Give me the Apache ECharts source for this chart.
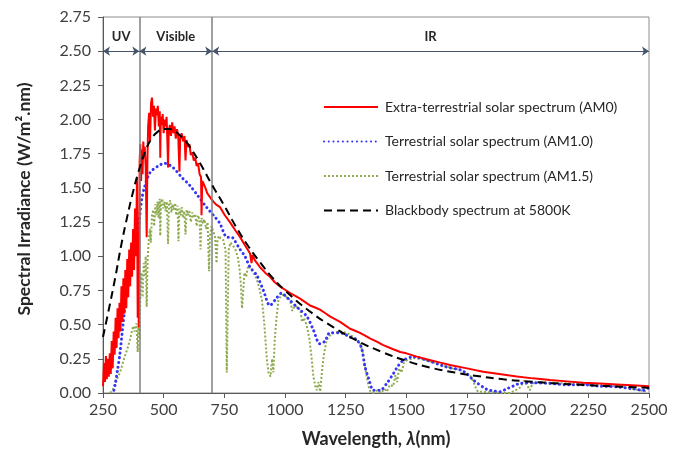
<!DOCTYPE html>
<html><head><meta charset="utf-8">
<script src="https://cdn.jsdelivr.net/npm/echarts@6/dist/echarts.min.js"></script>
<style>html,body{margin:0;padding:0;background:#fff}#c{width:684px;height:460px}</style>
</head><body><div id="c"></div>
<script>
// ---------------- data ----------------
const seriesNames = [
  'Extra-terrestrial solar spectrum (AM0)',
  'Terrestrial solar spectrum (AM1.0)',
  'Terrestrial solar spectrum (AM1.5)',
  'Blackbody spectrum at 5800K'
];
const xTicks = [250, 500, 750, 1000, 1250, 1500, 1750, 2000, 2250, 2500];
const yTicks = [0, 0.25, 0.5, 0.75, 1, 1.25, 1.5, 1.75, 2, 2.25, 2.5, 2.75];

// region boundaries (nm) and names
const regionBounds = [250, 400, 700, 2500];
const regionNames = ['UV', 'Visible', 'IR'];
const regionArrowLevel = 2.5;

// AM0 extra-terrestrial spectrum [wavelength nm, W/m2.nm]
const am0 = [
  [250,0.05],[254,0.22],[258,0.08],[262,0.27],[266,0.10],[270,0.25],[274,0.12],[278,0.29],
  [282,0.14],[286,0.38],[290,0.18],[294,0.45],[298,0.28],[302,0.55],[306,0.33],[310,0.62],
  [314,0.40],[318,0.66],[322,0.45],[326,0.78],[330,0.52],[334,0.84],[338,0.58],[342,0.90],
  [346,0.62],[350,0.98],[354,0.70],[358,1.05],[362,0.78],[366,1.10],[370,0.85],[374,1.20],
  [378,0.90],[382,1.35],[386,1.00],[390,1.58],[393,0.55],[396,0.90],[398,0.48],[401,1.70],
  [404,1.82],[407,1.55],[410,1.78],[413,1.60],[416,1.84],[419,1.72],[422,1.80],[426,1.65],
  [430,1.14],[433,1.70],[436,1.95],[440,2.05],[444,1.85],[448,2.12],[452,2.16],[456,2.02],
  [460,2.10],[464,1.92],[468,2.08],[472,2.03],[476,2.10],[480,1.95],[484,2.06],[486,1.72],
  [488,2.02],[492,1.96],[496,2.04],[500,1.90],[504,2.00],[508,1.95],[512,2.02],[516,1.80],
  [518,1.65],[521,1.92],[526,1.96],[530,1.88],[535,1.98],[540,1.90],[545,1.95],[550,1.86],
  [555,1.93],[560,1.88],[565,1.62],[568,1.86],[574,1.90],[580,1.84],[586,1.88],[590,1.70],
  [594,1.85],[600,1.80],[606,1.82],[612,1.74],[618,1.76],[624,1.70],[630,1.72],[636,1.66],
  [642,1.68],[648,1.60],[654,1.58],[656,1.30],[659,1.55],[665,1.53],[672,1.50],[680,1.46],
  [688,1.44],[696,1.42],[705,1.40],[715,1.38],[732,1.36],[752,1.30],[773,1.25],[795,1.19],
  [815,1.14],[835,1.08],[856,1.02],[862,0.95],[866,1.01],[876,0.97],[897,0.92],[918,0.88],
  [938,0.85],[958,0.81],[979,0.78],[1000,0.755],[1021,0.73],[1042,0.71],[1062,0.69],
  [1083,0.665],[1103,0.64],[1124,0.625],[1144,0.61],[1165,0.585],[1185,0.56],[1206,0.54],
  [1227,0.52],[1248,0.495],[1268,0.47],[1289,0.455],[1309,0.44],[1330,0.42],[1350,0.40],
  [1378,0.375],[1405,0.35],[1446,0.32],[1475,0.30],[1500,0.29],[1543,0.266],[1600,0.24],
  [1640,0.222],[1680,0.205],[1750,0.18],[1817,0.156],[1890,0.137],[1955,0.12],[2022,0.107],
  [2092,0.095],[2161,0.085],[2229,0.075],[2298,0.069],[2367,0.063],[2430,0.057],[2500,0.05]
];

// AM1.0 terrestrial spectrum
const am10 = [
  [295,0.02],[300,0.06],[310,0.17],[320,0.29],[333,0.51],[347,0.73],[361,0.90],[374,1.02],
  [388,1.12],[395,1.19],[409,1.41],[422,1.51],[443,1.61],[477,1.66],[504,1.68],[538,1.65],
  [573,1.58],[607,1.52],[642,1.44],[676,1.36],[710,1.29],[732,1.24],[746,1.18],[760,1.14],
  [780,1.14],[794,1.11],[815,1.05],[835,1.00],[856,0.92],[884,0.86],[911,0.75],[938,0.64],
  [959,0.68],[986,0.73],[1007,0.70],[1048,0.63],[1090,0.56],[1117,0.46],[1144,0.36],
  [1165,0.38],[1185,0.44],[1227,0.44],[1268,0.41],[1295,0.39],[1315,0.33],[1330,0.19],
  [1344,0.11],[1365,0.02],[1392,0.02],[1419,0.07],[1446,0.14],[1467,0.20],[1488,0.24],
  [1529,0.265],[1584,0.24],[1666,0.19],[1721,0.17],[1750,0.14],[1776,0.095],[1831,0.027],
  [1858,0.015],[1886,0.01],[1913,0.03],[1940,0.05],[1968,0.07],[2022,0.075],[2091,0.07],
  [2161,0.06],[2230,0.06],[2298,0.05],[2367,0.045],[2435,0.03],[2476,0.02],[2500,0.04]
];

// AM1.5 terrestrial spectrum
const am15 = [
  [280,0.0],[290,0.02],[299,0.07],[310,0.11],[320,0.15],[330,0.21],[340,0.27],[350,0.32],
  [361,0.39],[374,0.49],[380,0.45],[388,0.51],[393,0.30],[397,0.55],[400,0.40],[404,0.72],
  [409,0.88],[413,0.70],[418,0.95],[422,0.85],[426,1.00],[430,0.63],[434,0.98],[438,1.10],
  [443,1.20],[447,1.10],[452,1.30],[457,1.34],[461,1.22],[466,1.38],[470,1.30],[475,1.40],
  [479,1.28],[484,1.42],[486,1.15],[489,1.38],[494,1.42],[498,1.35],[503,1.40],[508,1.33],
  [513,1.40],[518,1.09],[522,1.38],[527,1.41],[532,1.32],[537,1.38],[542,1.34],[547,1.39],
  [552,1.30],[557,1.37],[561,1.11],[565,1.35],[570,1.30],[575,1.36],[580,1.28],[585,1.33],
  [590,1.16],[595,1.34],[600,1.30],[606,1.33],[612,1.25],[618,1.32],[624,1.28],[630,1.31],
  [636,1.22],[642,1.30],[648,1.26],[652,1.05],[656,1.28],[662,1.24],[668,1.27],[675,1.20],
  [681,1.25],[687,0.89],[691,1.15],[697,1.22],[705,1.18],[712,1.14],[718,0.95],[722,1.12],
  [728,1.15],[735,1.13],[745,1.12],[755,1.05],[760,0.15],[764,0.60],[768,1.05],[775,1.10],
  [785,1.08],[795,1.05],[805,1.00],[812,0.92],[818,0.80],[823,0.62],[828,0.75],[833,0.88],
  [840,0.85],[848,0.93],[856,0.92],[865,0.90],[875,0.86],[884,0.83],[895,0.76],[905,0.68],
  [915,0.50],[925,0.25],[932,0.15],[940,0.12],[947,0.25],[952,0.15],[958,0.40],[965,0.55],
  [973,0.68],[983,0.71],[994,0.72],[1008,0.70],[1021,0.68],[1030,0.60],[1040,0.64],
  [1063,0.61],[1070,0.52],[1078,0.55],[1090,0.49],[1100,0.40],[1110,0.25],[1117,0.12],
  [1125,0.05],[1131,0.02],[1138,0.08],[1145,0.01],[1152,0.15],[1160,0.28],[1172,0.39],
  [1185,0.42],[1199,0.44],[1227,0.45],[1254,0.44],[1282,0.41],[1309,0.37],[1320,0.30],
  [1330,0.19],[1337,0.12],[1344,0.05],[1352,0.01],[1365,0.0],[1380,0.02],[1395,0.0],
  [1410,0.03],[1420,0.01],[1432,0.06],[1446,0.05],[1455,0.13],[1462,0.08],[1470,0.18],
  [1480,0.15],[1490,0.22],[1502,0.24],[1529,0.255],[1555,0.25],[1584,0.24],[1620,0.22],
  [1653,0.20],[1690,0.18],[1721,0.17],[1745,0.15],[1762,0.13],[1775,0.09],[1783,0.05],
  [1795,0.01],[1803,0.0],[1900,0.0],[1927,0.0],[1950,0.02],[1968,0.04],[1985,0.09],
  [2000,0.05],[2009,0.02],[2020,0.07],[2050,0.08],[2100,0.075],[2161,0.07],[2230,0.065],
  [2298,0.06],[2367,0.05],[2435,0.03],[2490,0.01]
];

// Blackbody 5800 K (scaled)
const blackbody = [
  [250,0.41],[275,0.62],[300,0.84],[325,1.08],[350,1.29],[375,1.48],[400,1.64],[425,1.77],
  [450,1.86],[475,1.91],[500,1.93],[525,1.93],[550,1.91],[575,1.87],[600,1.82],[650,1.68],
  [700,1.52],[750,1.37],[800,1.21],[850,1.07],[900,0.95],[950,0.84],[1000,0.75],[1100,0.60],
  [1200,0.48],[1300,0.38],[1400,0.30],[1500,0.235],[1600,0.185],[1700,0.15],[1800,0.122],
  [1900,0.10],[2000,0.085],[2100,0.072],[2250,0.057],[2400,0.045],[2500,0.038]
];

// ---------------- chart ----------------
const FONT = 'Lato';
const chart = echarts.init(document.getElementById('c'), null, {renderer: 'canvas'});

const boundaryLines = regionBounds.slice(1, -1).map(b => [
  {coord: [b, yTicks[0]]}, {coord: [b, yTicks[yTicks.length - 1]]}
]);
const arrowLines = regionNames.map((n, i) => [
  {name: n, coord: [regionBounds[i], regionArrowLevel]},
  {coord: [regionBounds[i + 1], regionArrowLevel]}
]);

chart.setOption({
  animation: false,
  backgroundColor: '#fff',
  textStyle: {fontFamily: FONT},
  grid: {left: 103, right: 35, top: 17, bottom: 67, show: true, borderColor: '#8c8c8c', borderWidth: 1},
  legend: {
    data: seriesNames,
    orient: 'vertical',
    left: 323, top: 100, padding: 0,
    itemWidth: 54, itemHeight: 14, itemGap: 20.5,
    itemStyle: {opacity: 0},
    textStyle: {fontFamily: FONT, fontSize: 14, color: '#262626', padding: [0, 0, 0, 2]}
  },
  xAxis: {
    type: 'value', min: 250, max: 2500, interval: 250,
    name: 'Wavelength, {i|λ}(nm)', nameLocation: 'middle', nameGap: 37,
    nameTextStyle: {fontFamily: FONT, fontSize: 18, fontWeight: 'bold', color: '#262626',
      rich: {i: {fontFamily: FONT, fontSize: 18, fontWeight: 'bold', fontStyle: 'italic', color: '#262626'}}},
    axisLine: {show: true, lineStyle: {color: '#595959', width: 1}},
    axisTick: {show: true, length: 5, lineStyle: {color: '#595959'}},
    axisLabel: {fontFamily: FONT, fontSize: 16, color: '#404040', margin: 9, formatter: v => String(v)},
    splitLine: {show: false}
  },
  yAxis: {
    type: 'value', min: 0, max: 2.75, interval: 0.25,
    name: 'Spectral Irradiance (W/m².nm)', nameLocation: 'middle', nameGap: 70,
    nameTextStyle: {fontFamily: FONT, fontSize: 17.5, fontWeight: 'bold', color: '#262626', padding: [0, 0, 0, 12]},
    axisLine: {show: true, lineStyle: {color: '#595959', width: 1}},
    axisTick: {show: true, length: 5, lineStyle: {color: '#595959'}},
    axisLabel: {fontFamily: FONT, fontSize: 16, color: '#404040', margin: 12, formatter: v => v.toFixed(2)},
    splitLine: {show: false}
  },
  series: [
    {
      name: seriesNames[2], type: 'line', data: am15, symbol: 'none', z: 2,
      lineStyle: {color: '#8DAA4E', width: 2, type: [2, 2]},
      itemStyle: {color: '#8DAA4E'}
    },
    {
      name: seriesNames[1], type: 'line', data: am10, symbol: 'none', smooth: 0.3, z: 3,
      lineStyle: {color: '#3535F5', width: 3, type: [0.1, 4.6], cap: 'round'},
      itemStyle: {color: '#3535F5'}
    },
    {
      name: seriesNames[0], type: 'line', data: am0, symbol: 'none', z: 4,
      lineStyle: {color: '#FF0000', width: 2},
      itemStyle: {color: '#FF0000'}
    },
    {
      name: seriesNames[3], type: 'line', data: blackbody, symbol: 'none', smooth: true, z: 5,
      lineStyle: {color: '#000000', width: 2, type: [8, 5]},
      itemStyle: {color: '#000000'}
    },
    {
      name: 'regions', type: 'line', data: [], z: 1,
      markLine: {
        silent: true, symbol: 'none', animation: false,
        lineStyle: {color: '#7f7f7f', width: 1.5, type: 'solid'},
        label: {show: false},
        data: boundaryLines
      }
    },
    {
      name: 'regionArrows', type: 'line', data: [], z: 6,
      markLine: {
        silent: true, symbol: ['arrow', 'arrow'], symbolSize: 7, animation: false,
        lineStyle: {color: '#44546A', width: 1, type: 'solid'},
        label: {show: true, position: 'insideMiddleTop', distance: 8, formatter: '{b}',
          fontFamily: FONT, fontSize: 13, fontWeight: 'bold', color: '#262626'},
        data: arrowLines
      }
    }
  ]
});
</script>
</body></html>
